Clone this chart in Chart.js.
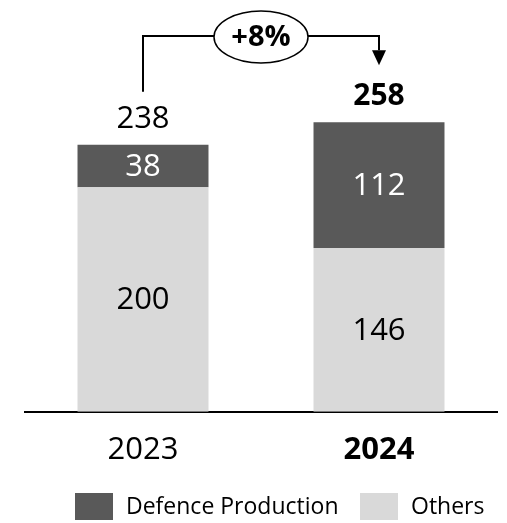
<!DOCTYPE html>
<html lang="en">
<head>
    <meta charset="UTF-8">
    <title>Defence Production</title>
    <style>
        body {
            margin: 0;
            background: #ffffff;
        }
        .chart-box {
            position: relative;
            width: 507px;
            height: 523px;
        }
    </style>
    <script src="https://cdn.jsdelivr.net/npm/chart.js"></script>
</head>
<body>
    <div class="chart-box">
        <canvas id="revenueChart"></canvas>
    </div>

    <script>
        const years = ['2023', '2024'];
        const others = [200, 146];
        const defence = [38, 112];
        const totals = [238, 258];
        const growthLabel = '+8%';

        const darkGrey = '#595959';
        const lightGrey = '#d9d9d9';
        const fontFamily = "'Open Sans', sans-serif";

        // value labels, totals, growth arrow and legend
        const overlayPlugin = {
            id: 'overlay',
            afterDatasetsDraw(chart) {
                const ctx = chart.ctx;
                ctx.save();
                ctx.textAlign = 'center';
                ctx.textBaseline = 'middle';

                chart.data.datasets.forEach((ds, di) => {
                    const meta = chart.getDatasetMeta(di);
                    meta.data.forEach((bar, i) => {
                        ctx.fillStyle = di === 1 ? '#ffffff' : '#000000';
                        ctx.font = `31px ${fontFamily}`;
                        ctx.fillText(ds.data[i], bar.x, (bar.y + bar.base) / 2 + 1);
                    });
                });

                const topBars = chart.getDatasetMeta(1).data;
                topBars.forEach((bar, i) => {
                    ctx.fillStyle = '#000000';
                    ctx.font = (i === 1 ? 'bold 30px ' : '31px ') + fontFamily;
                    ctx.fillText(totals[i], bar.x, bar.y - 26);
                });

                // growth arrow
                const x0 = topBars[0].x;
                const x1 = topBars[1].x;
                const lineY = 36;
                ctx.strokeStyle = '#000000';
                ctx.lineWidth = 2;
                ctx.beginPath();
                ctx.moveTo(x0, topBars[0].y - 53);
                ctx.lineTo(x0, lineY);
                ctx.lineTo(x1, lineY);
                ctx.lineTo(x1, topBars[1].y - 72);
                ctx.stroke();

                ctx.fillStyle = '#000000';
                ctx.beginPath();
                ctx.moveTo(x1 - 7, topBars[1].y - 72);
                ctx.lineTo(x1 + 7, topBars[1].y - 72);
                ctx.lineTo(x1, topBars[1].y - 57);
                ctx.closePath();
                ctx.fill();

                const midX = (x0 + x1) / 2;
                ctx.fillStyle = '#ffffff';
                ctx.lineWidth = 1.5;
                ctx.beginPath();
                ctx.ellipse(midX, 37, 47, 26, 0, 0, Math.PI * 2);
                ctx.fill();
                ctx.stroke();
                ctx.fillStyle = '#000000';
                ctx.font = `bold 29px ${fontFamily}`;
                ctx.fillText(growthLabel, midX, 38);

                // legend
                const items = [chart.data.datasets[1], chart.data.datasets[0]];
                const boxX = [75, 360];
                ctx.textAlign = 'left';
                ctx.font = `23px ${fontFamily}`;
                items.forEach((ds, i) => {
                    ctx.fillStyle = ds.backgroundColor;
                    ctx.fillRect(boxX[i], 493, 38, 27);
                    ctx.fillStyle = '#000000';
                    ctx.fillText(ds.label, boxX[i] + 51, 507);
                });
                ctx.restore();
            }
        };

        const chart = new Chart(document.getElementById('revenueChart'), {
            type: 'bar',
            data: {
                labels: years,
                datasets: [
                    {
                        label: 'Others',
                        data: others,
                        backgroundColor: lightGrey
                    },
                    {
                        label: 'Defence Production',
                        data: defence,
                        backgroundColor: darkGrey
                    }
                ]
            },
            options: {
                responsive: true,
                maintainAspectRatio: false,
                animation: false,
                categoryPercentage: 0.555,
                barPercentage: 1,
                layout: {
                    padding: { left: 25, right: 10, top: 10, bottom: 34 }
                },
                plugins: {
                    legend: { display: false },
                    tooltip: { enabled: false }
                },
                scales: {
                    x: {
                        stacked: true,
                        grid: { display: false, drawTicks: false },
                        border: { color: '#000000', width: 2 },
                        ticks: {
                            color: '#000000',
                            padding: 20,
                            font: (c) => ({
                                family: fontFamily,
                                size: 31,
                                weight: c.index === 1 ? 'bold' : 'normal'
                            })
                        }
                    },
                    y: {
                        stacked: true,
                        display: false,
                        min: 0,
                        max: 358
                    }
                }
            },
            plugins: [overlayPlugin]
        });
    </script>
</body>
</html>
